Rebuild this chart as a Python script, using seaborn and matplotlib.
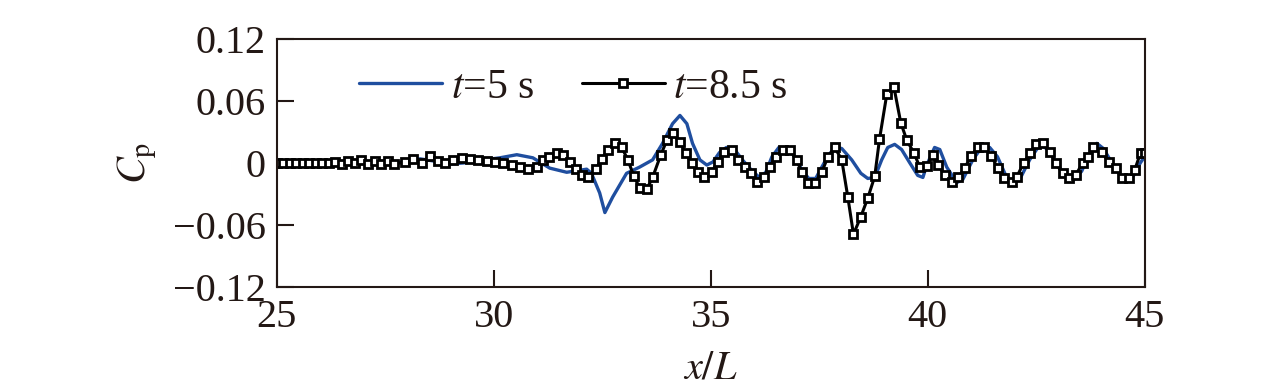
import numpy as np
import pandas as pd
import matplotlib
matplotlib.use("Agg")
import matplotlib.pyplot as plt
import seaborn as sns

# t = 5 s (smooth curve)
x_t5 = [25.0, 27.5, 28.0, 28.3, 28.6, 29.0, 29.3, 29.6, 30.14, 30.53, 30.9, 31.29, 31.68,
        32.14, 32.25, 32.44, 32.56, 32.74, 33.06, 33.36, 33.66, 33.89, 34.12, 34.29, 34.45,
        34.58, 34.75, 34.91, 35.05, 35.2, 35.36, 35.55, 35.73, 35.94, 36.12, 36.27, 36.41,
        36.57, 36.8, 36.96, 37.1, 37.26, 37.42, 37.56, 37.72, 37.88, 38.02, 38.25, 38.46,
        38.62, 38.78, 38.94, 39.08, 39.24, 39.4, 39.59, 39.77, 39.89, 39.98, 40.16, 40.28,
        40.44, 40.67, 40.81, 41.04, 41.24, 41.43, 41.61, 41.82, 41.96, 42.12, 42.35, 42.51,
        42.6, 42.8, 43.0, 43.2, 43.35, 43.55, 43.7, 43.9, 44.05, 44.25, 44.45, 44.6, 44.75,
        44.9, 45.0]
cp_t5 = [0.0, 0.0, 0.001, 0.004, 0.002, -0.001, 0.0, 0.002, 0.005, 0.008, 0.005, -0.005, -0.009,
         -0.006, -0.01, -0.029, -0.048, -0.033, -0.01, -0.004, 0.003, 0.019, 0.038, 0.046, 0.038,
         0.019, 0.003, -0.002, 0.001, 0.01, 0.015, 0.013, 0.003, -0.007, -0.014, -0.009, 0.006,
         0.015, 0.013, 0.005, -0.007, -0.015, -0.015, -0.004, 0.008, 0.015, 0.014, 0.003, -0.01,
         -0.015, -0.014, 0.003, 0.015, 0.018, 0.013, 0.0, -0.012, -0.014, -0.002, 0.015, 0.013,
         -0.004, -0.019, -0.016, 0.003, 0.015, 0.015, 0.006, -0.014, -0.019, -0.016, 0.003, 0.013,
         0.018, 0.012, -0.002, -0.014, -0.017, -0.008, 0.006, 0.019, 0.014, 0.0, -0.012, -0.016,
         -0.012, 0.0, 0.006]

# t = 8.5 s (line with square markers)
x_t85 = [25.0, 25.15, 25.3, 25.45, 25.6, 25.75, 25.9, 26.05, 26.2, 26.35, 26.5, 26.65, 26.8,
         26.95, 27.1, 27.25, 27.4, 27.55, 27.7, 27.95, 28.13, 28.34, 28.53, 28.71, 28.87, 29.06,
         29.26, 29.45, 29.63, 29.84, 30.02, 30.21, 30.41, 30.6, 30.78, 30.99, 31.13, 31.27,
         31.45, 31.59, 31.75, 31.89, 32.03, 32.17, 32.35, 32.49, 32.63, 32.79, 32.95, 33.09,
         33.23, 33.36, 33.53, 33.66, 33.85, 33.99, 34.12, 34.29, 34.42, 34.56, 34.7, 34.84,
         35.02, 35.16, 35.3, 35.48, 35.62, 35.78, 35.92, 36.06, 36.22, 36.36, 36.5, 36.66,
         36.82, 36.98, 37.1, 37.24, 37.4, 37.56, 37.7, 37.86, 38.02, 38.16, 38.29, 38.46,
         38.62, 38.78, 38.89, 39.06, 39.22, 39.38, 39.52, 39.68, 39.82, 39.98, 40.12, 40.25,
         40.39, 40.55, 40.71, 40.85, 41.01, 41.15, 41.31, 41.47, 41.61, 41.77, 41.94, 42.05,
         42.21, 42.37, 42.49, 42.67, 42.81, 42.95, 43.11, 43.25, 43.41, 43.57, 43.69, 43.82,
         44.01, 44.17, 44.33, 44.49, 44.63, 44.77, 44.91, 45.0]
cp_t85 = [0.0, 0.0, 0.0, 0.0, 0.0, 0.0, 0.0, 0.0, 0.0, 0.001, -0.001, 0.002, 0.0,
          0.003, -0.001, 0.002, -0.001, 0.002, -0.001, 0.001, 0.004, 0.0, 0.007, 0.002, 0.0, 0.003,
          0.005, 0.004, 0.003, 0.002, 0.001, 0.0, -0.002, -0.004, -0.006, -0.004, 0.003, 0.006,
          0.01, 0.008, 0.001, -0.006, -0.012, -0.014, -0.006, 0.004, 0.013, 0.019, 0.015, 0.003,
          -0.013, -0.024, -0.025, -0.014, 0.008, 0.022, 0.029, 0.02, 0.01, 0.0, -0.009, -0.014,
          -0.009, 0.001, 0.011, 0.013, 0.003, -0.004, -0.01, -0.018, -0.014, -0.004, 0.006, 0.013,
          0.013, 0.003, -0.009, -0.019, -0.019, -0.009, 0.006, 0.015, 0.003, -0.033, -0.069, -0.052,
          -0.034, -0.013, 0.023, 0.067, 0.074, 0.039, 0.022, 0.01, -0.004, -0.003, 0.008, -0.002,
          -0.012, -0.018, -0.014, -0.005, 0.007, 0.015, 0.015, 0.007, -0.005, -0.015, -0.018, -0.014,
          0.0, 0.01, 0.018, 0.019, 0.011, 0.0, -0.01, -0.015, -0.012, 0.0, 0.006, 0.015,
          0.011, 0.001, -0.005, -0.015, -0.015, -0.007, 0.01, 0.01]

x_ticks = [25, 30, 35, 40, 45]
y_ticks = [-0.12, -0.06, 0, 0.06, 0.12]
y_ticklabels = ["\u22120.12", "\u22120.06", "0", "0.06", "0.12"]

ink = "#231815"
sns.set_style("ticks")
plt.rcParams["font.family"] = ["Liberation Serif", "DejaVu Serif"]
plt.rcParams["mathtext.fontset"] = "stix"
plt.rcParams["text.color"] = ink
plt.rcParams["axes.labelcolor"] = ink
plt.rcParams["xtick.color"] = ink
plt.rcParams["ytick.color"] = ink

fig = plt.figure(figsize=(12.76, 3.92), dpi=100)
ax = fig.add_axes([0.217, 0.268, 0.68, 0.6325])

sns.lineplot(x=x_t5, y=cp_t5, ax=ax, color="#1f4e9f", linewidth=2.4,
             estimator=None, sort=False, label="$t$=5 s")
sns.lineplot(x=x_t85, y=cp_t85, ax=ax, color="black", linewidth=2.2,
             marker="s", markersize=6.4, markerfacecolor="white", markeredgecolor="black",
             markeredgewidth=2.0, estimator=None, sort=False, label="$t$=8.5 s")

ax.set_xlim(25, 45)
ax.set_ylim(-0.12, 0.12)
ax.set_xticks(x_ticks)
ax.set_yticks(y_ticks)
ax.set_yticklabels(y_ticklabels)
ax.tick_params(axis="both", direction="in", length=12, width=1.5, labelsize=29,
               left=True, bottom=True, top=False, right=False, colors=ink)
ax.tick_params(axis="x", pad=9)
ax.tick_params(axis="y", pad=8)
for s in ax.spines.values():
    s.set_linewidth(1.5)
    s.set_color(ink)

ax.set_xlabel("$x/L$", fontsize=29, labelpad=10)
ax.set_ylabel("$C_\\mathrm{p}$", fontsize=29, labelpad=10)

ax.legend(loc="center left", bbox_to_anchor=(0.061, 0.805), ncol=2, frameon=False,
          fontsize=30, handlelength=2.0, handletextpad=0.2, columnspacing=1.15,
          borderpad=0.2)

fig.savefig("out.png", dpi=100)
